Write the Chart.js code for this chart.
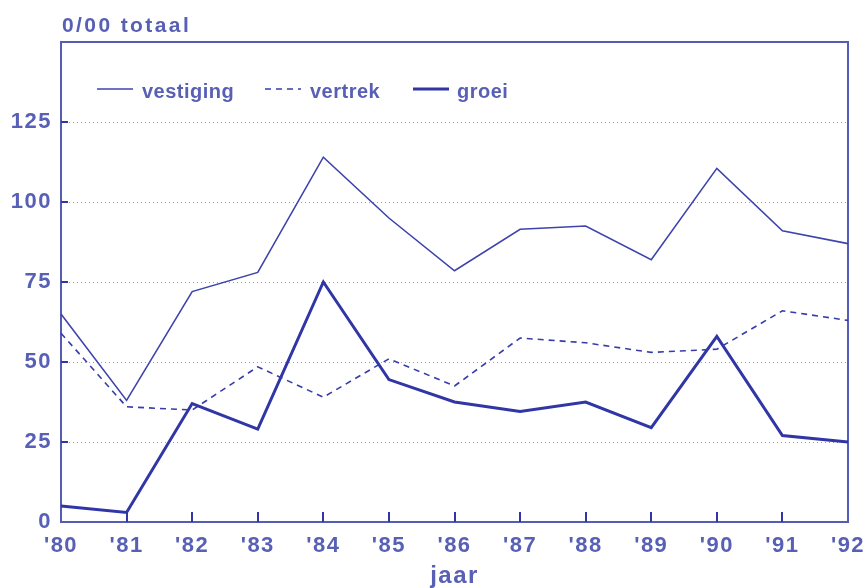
<!DOCTYPE html>
<html>
<head>
<meta charset="utf-8">
<script src="https://cdn.jsdelivr.net/npm/chart.js@4/dist/chart.umd.min.js"></script>
<style>
html,body{margin:0;padding:0;background:#fff;}
canvas{display:block;}
</style>
</head>
<body>
<canvas id="c" width="866" height="588"></canvas>
<script>
// ---- data ----
const years = ["'80","'81","'82","'83","'84","'85","'86","'87","'88","'89","'90","'91","'92"];
const vestiging = [65, 38, 72, 78, 114, 95, 78.5, 91.5, 92.5, 82, 110.5, 91, 87];
const vertrek   = [59, 36, 35, 48.5, 39, 51, 42.5, 57.5, 56, 53, 54, 66, 63];
const groei     = [5, 3, 37, 29, 75, 44.5, 37.5, 34.5, 37.5, 29.5, 58, 27, 25];
const yTicks = [0, 25, 50, 75, 100, 125];
const seriesLabels = ['vestiging', 'vertrek', 'groei'];
const yTitle = '0/00 totaal';
const xTitle = 'jaar';

const TEXT = 'rgb(88,96,182)';
const LINE = 'rgb(48,54,165)';
const FRAME = 'rgb(84,92,184)';
const FONT = '"Liberation Sans", Arial, sans-serif';

const spacingPlugin = {
  id: 'spacing',
  beforeLayout(chart) { chart.ctx.letterSpacing = '1.5px'; },
  beforeDraw(chart) { chart.ctx.letterSpacing = '1.5px'; }
};

const decorPlugin = {
  id: 'decor',
  beforeDatasetsDraw(chart) {
    const {ctx, chartArea: a, scales} = chart;
    ctx.save();
    // dotted grid lines
    ctx.strokeStyle = 'rgba(110,118,196,0.75)';
    ctx.lineWidth = 1;
    ctx.setLineDash([1, 3]);
    yTicks.forEach(v => {
      if (v === 0) return;
      const y = Math.round(scales.y.getPixelForValue(v)) + 0.5;
      ctx.beginPath(); ctx.moveTo(a.left, y); ctx.lineTo(a.right, y); ctx.stroke();
    });
    ctx.setLineDash([]);
    // frame
    ctx.strokeStyle = FRAME;
    ctx.lineWidth = 2;
    ctx.strokeRect(a.left, a.top, a.right - a.left, a.bottom - a.top);
    // inward ticks
    ctx.strokeStyle = LINE;
    ctx.lineWidth = 2;
    years.forEach((y, i) => {
      if (i === 0 || i === years.length - 1) return;
      const x = Math.round(scales.x.getPixelForValue(i));
      ctx.beginPath(); ctx.moveTo(x, a.bottom); ctx.lineTo(x, a.bottom - 10); ctx.stroke();
    });
    yTicks.forEach(v => {
      if (v === 0) return;
      const y = Math.round(scales.y.getPixelForValue(v));
      ctx.beginPath(); ctx.moveTo(a.left, y); ctx.lineTo(a.left + 7, y); ctx.stroke();
    });
    ctx.restore();
  },
  afterDraw(chart) {
    const {ctx, chartArea: a} = chart;
    ctx.save();
    // y title
    ctx.fillStyle = TEXT;
    ctx.font = 'bold 21px ' + FONT;
    ctx.letterSpacing = '2.4px';
    ctx.textAlign = 'left';
    ctx.textBaseline = 'alphabetic';
    ctx.fillText(yTitle, a.left + 1, 32);
    // legend
    const pos = [[36, 81], [204, 249], [352, 396]];
    ctx.font = 'bold 20px ' + FONT;
    ctx.letterSpacing = '0.5px';
    chart.data.datasets.forEach((ds, i) => {
      const [lx, tx] = pos[i];
      ctx.strokeStyle = ds.borderColor;
      ctx.lineWidth = ds.borderWidth;
      ctx.setLineDash(ds.borderDash || []);
      ctx.beginPath();
      ctx.moveTo(a.left + lx, 89);
      ctx.lineTo(a.left + lx + 36, 89);
      ctx.stroke();
      ctx.setLineDash([]);
      ctx.fillStyle = TEXT;
      ctx.fillText(ds.label, a.left + tx, 98);
    });
    ctx.restore();
  }
};

new Chart(document.getElementById('c'), {
  type: 'line',
  data: {
    labels: years,
    datasets: [
      { label: seriesLabels[0], data: vestiging, borderColor: 'rgb(62,68,172)', borderWidth: 1.6, pointRadius: 0, tension: 0, fill: false },
      { label: seriesLabels[1], data: vertrek, borderColor: 'rgb(54,60,170)', borderWidth: 1.6, borderDash: [6, 5], pointRadius: 0, tension: 0, fill: false },
      { label: seriesLabels[2], data: groei, borderColor: LINE, borderWidth: 3, pointRadius: 0, tension: 0, fill: false }
    ]
  },
  options: {
    responsive: false,
    animation: false,
    devicePixelRatio: 1,
    layout: { padding: { top: 42, right: 18, left: 0, bottom: 0 } },
    plugins: { legend: { display: false }, tooltip: { enabled: false }, title: { display: false } },
    scales: {
      x: {
        offset: false,
        grid: { display: false, drawTicks: false },
        border: { display: false },
        ticks: { color: TEXT, font: { family: FONT, size: 22, weight: 'bold' }, padding: 11, maxRotation: 0, autoSkip: false },
        title: { display: true, text: xTitle, color: TEXT, font: { family: FONT, size: 24, weight: 'bold', lineHeight: 1 }, padding: { top: 0, bottom: 0 } },
        afterFit(s) { s.height = 66; s.paddingRight = 0; s.paddingLeft = 0; }
      },
      y: {
        min: 0, max: 150,
        grid: { display: false, drawTicks: false },
        border: { display: false },
        ticks: {
          stepSize: 25, padding: 9, color: TEXT,
          font: { family: FONT, size: 22, weight: 'bold' },
          callback: v => (yTicks.includes(v) ? String(v) : '')
        },
        afterFit(s) { s.width = 61; s.paddingTop = 0; s.paddingBottom = 0; }
      }
    }
  },
  plugins: [spacingPlugin, decorPlugin]
});
</script>
</body>
</html>
